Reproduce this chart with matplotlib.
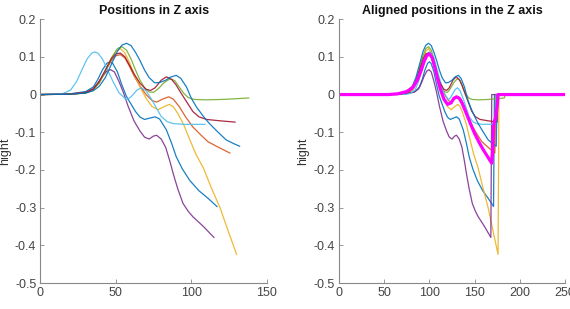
import numpy as np
import matplotlib
matplotlib.use('Agg')
import matplotlib.pyplot as plt

plt.rcParams['font.family'] = ['Liberation Sans', 'DejaVu Sans']

# MATLAB default colour order
colors = ['#0072BD', '#D95319', '#EDB120', '#7E2F8E', '#77AC30', '#4DBEEE', '#A2142F', '#0072BD']

# Curves (sample index, height)
x_blue1 = [0, 20, 30, 35, 38, 41, 44, 46, 48, 51, 54, 57, 60, 63, 66, 69, 73, 76, 79, 83.5, 87, 90, 94, 99, 105, 111, 117]
y_blue1 = [0, 0.002, 0.008, 0.02, 0.04, 0.065, 0.083, 0.087, 0.082, 0.06, 0.025, -0.005, -0.025, -0.045, -0.06, -0.066, -0.062, -0.059, -0.065, -0.094, -0.13, -0.165, -0.197, -0.228, -0.255, -0.275, -0.297]

x_orange = [0, 20, 30, 35, 39, 43, 47, 50, 53, 56, 59, 62, 66, 70, 74, 77, 81, 85, 88, 92, 96, 101, 106, 111, 118, 125.5]
y_orange = [0, 0.001, 0.005, 0.014, 0.033, 0.062, 0.09, 0.103, 0.106, 0.097, 0.075, 0.05, 0.022, 0.0, -0.016, -0.02, -0.012, -0.006, -0.012, -0.032, -0.058, -0.086, -0.106, -0.125, -0.14, -0.155]

x_yellow = [0, 20, 30, 35, 39, 43, 47, 50, 53, 56, 59, 62, 66, 70, 74, 78, 82, 85.5, 88, 91, 95, 99, 103, 108, 113, 119, 124, 130]
y_yellow = [0, 0.001, 0.004, 0.012, 0.03, 0.06, 0.095, 0.115, 0.122, 0.11, 0.085, 0.055, 0.02, -0.01, -0.032, -0.04, -0.032, -0.026, -0.032, -0.05, -0.08, -0.12, -0.158, -0.195, -0.245, -0.3, -0.357, -0.424]

x_purple = [0, 20, 30, 35, 38, 41, 44, 46.5, 49, 52, 55, 58, 62, 66, 69, 72, 75, 77, 80, 83, 86, 88, 91, 94.5, 98, 101, 108, 115]
y_purple = [0, 0.002, 0.006, 0.015, 0.03, 0.048, 0.062, 0.066, 0.06, 0.035, 0.005, -0.03, -0.07, -0.097, -0.113, -0.118, -0.11, -0.108, -0.118, -0.14, -0.18, -0.21, -0.25, -0.289, -0.31, -0.324, -0.35, -0.379]

x_green = [0, 20, 30, 35, 39, 43, 47, 51, 54, 57, 60, 63, 66, 69, 72, 75, 78, 82, 86, 89, 92, 95, 98, 102, 110, 120, 130, 138]
y_green = [0, 0.001, 0.004, 0.013, 0.032, 0.062, 0.097, 0.122, 0.127, 0.118, 0.095, 0.065, 0.038, 0.018, 0.007, 0.006, 0.015, 0.032, 0.042, 0.037, 0.02, 0.003, -0.008, -0.013, -0.014, -0.013, -0.011, -0.009]

x_cyan = [0, 10, 15, 20, 24, 28, 31, 34, 36, 38, 41, 44, 48, 52, 57, 60, 64, 67, 70, 74, 77, 80, 84, 88, 95, 109]
y_cyan = [0, 0.001, 0.003, 0.012, 0.035, 0.07, 0.095, 0.11, 0.113, 0.11, 0.095, 0.07, 0.035, 0.005, -0.014, -0.006, 0.012, 0.018, 0.01, -0.015, -0.037, -0.058, -0.072, -0.077, -0.079, -0.079]

x_red = [0, 20, 30, 35, 39, 43, 47, 50, 53, 56, 59, 62, 66, 70, 73, 76, 80, 83.5, 87, 90, 93, 97, 101, 105, 110, 120, 129]
y_red = [0, 0.001, 0.005, 0.015, 0.035, 0.065, 0.095, 0.108, 0.11, 0.1, 0.078, 0.055, 0.03, 0.014, 0.011, 0.018, 0.038, 0.047, 0.04, 0.025, 0.005, -0.02, -0.045, -0.059, -0.066, -0.07, -0.073]

x_blue2 = [0, 20, 30, 35, 39, 43, 47, 51, 54, 57, 60, 63, 66, 69, 72, 75.8, 79, 83, 86, 90, 93, 96.8, 100, 103.4, 108, 112, 117, 123, 128, 132]
y_blue2 = [0, 0.001, 0.004, 0.01, 0.022, 0.045, 0.08, 0.115, 0.131, 0.136, 0.13, 0.112, 0.09, 0.065, 0.045, 0.031, 0.032, 0.038, 0.046, 0.051, 0.043, 0.02, -0.01, -0.033, -0.058, -0.077, -0.097, -0.12, -0.13, -0.137]

curves_x = [x_blue1, x_orange, x_yellow, x_purple, x_green, x_cyan, x_red, x_blue2]
curves_y = [y_blue1, y_orange, y_yellow, y_purple, y_green, y_cyan, y_red, y_blue2]

# shift of each curve in the aligned plot
shifts = [54, 47, 46, 53, 45, 64, 46, 42]

# mean of the aligned curves (magenta)
mean_x = [0, 55, 65, 75, 82, 87, 91, 94, 97, 100, 103, 106, 109, 112, 116, 120, 124, 127, 130, 133, 136, 140, 145, 150, 155, 160, 165, 169, 170, 171, 172, 173, 175, 176, 250]
mean_y = [0, 0, 0.002, 0.008, 0.02, 0.04, 0.065, 0.087, 0.103, 0.108, 0.098, 0.072, 0.042, 0.015, -0.012, -0.026, -0.022, -0.01, -0.006, -0.01, -0.022, -0.045, -0.075, -0.103, -0.127, -0.148, -0.167, -0.182, -0.15, -0.085, -0.07, -0.065, -0.03, 0, 0]

fig = plt.figure(figsize=(5.7, 3.09), dpi=100)
ax1 = fig.add_axes([0.071, 0.084, 0.397, 0.854])
ax2 = fig.add_axes([0.595, 0.084, 0.396, 0.854])

for xs, ys, c in zip(curves_x, curves_y, colors):
    ax1.plot(xs, ys, color=c, lw=0.9, alpha=0.9)

for xs, ys, c, s in zip(curves_x, curves_y, colors, shifts):
    xa = np.concatenate([[0], np.array(xs) + s, [xs[-1] + s + 1, 250]])
    ya = np.concatenate([[0], ys, [0, 0]])
    ax2.plot(xa, ya, color=c, lw=0.9, alpha=0.9)
ax2.plot(mean_x, mean_y, color='#FF00FF', lw=2.3)

titles = ['Positions in Z axis', 'Aligned positions in the Z axis']
for ax, t, xmax, xt in zip([ax1, ax2], titles, [150, 250], [np.arange(0, 151, 50), np.arange(0, 251, 50)]):
    ax.set_xlim(0, xmax)
    ax.set_ylim(-0.5, 0.2)
    ax.set_xticks(xt)
    ax.set_yticks([-0.5, -0.4, -0.3, -0.2, -0.1, 0, 0.1, 0.2])
    ax.set_yticklabels(['-0.5', '-0.4', '-0.3', '-0.2', '-0.1', '0', '0.1', '0.2'])
    ax.set_title(t, fontsize=9, fontweight='bold', color='#111111', pad=4)
    ax.set_ylabel('hight', fontsize=9, color='#333333', labelpad=3)
    for sp in ['top', 'right']:
        ax.spines[sp].set_visible(False)
    for sp in ['left', 'bottom']:
        ax.spines[sp].set_color('#888888')
        ax.spines[sp].set_linewidth(0.8)
    ax.tick_params(direction='in', length=3, width=0.6, color='#888888',
                   labelsize=9, labelcolor='#444444', pad=3)

fig.savefig('out.png', dpi=100)
